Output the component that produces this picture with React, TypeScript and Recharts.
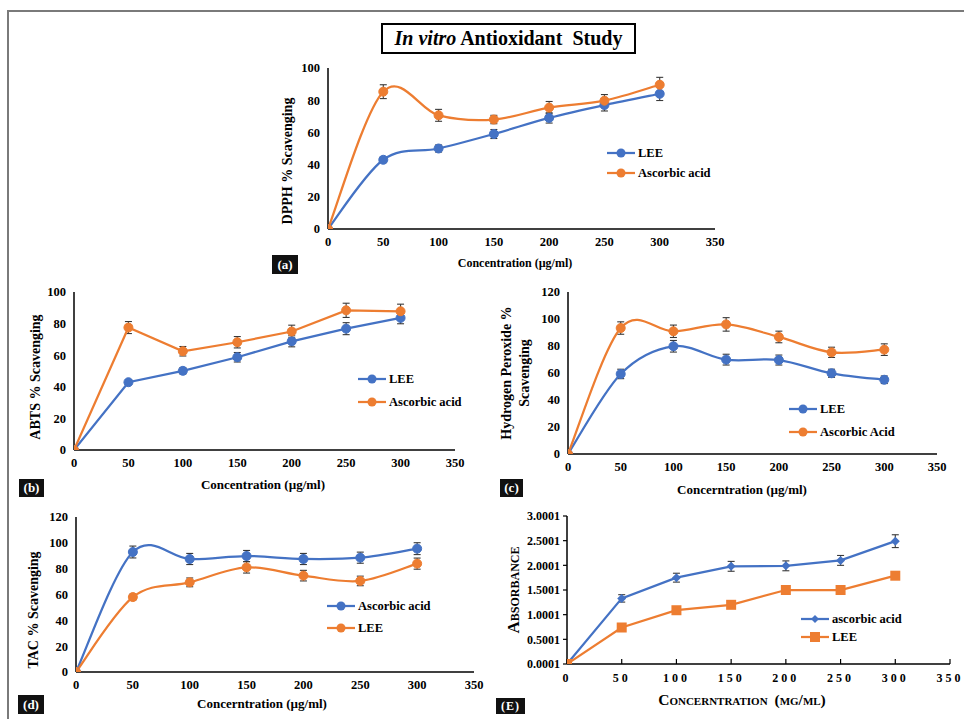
import React from 'react';
import { LineChart, Line, XAxis, YAxis, ErrorBar, Legend } from 'recharts';

// ---------- data ----------
const concentrations = [0, 50, 100, 150, 200, 250, 300];
const xTicks = [0, 50, 100, 150, 200, 250, 300, 350];
const pctTicks100 = [0, 20, 40, 60, 80, 100];
const pctTicks120 = [0, 20, 40, 60, 80, 100, 120];
const absTicks = [0.0001, 0.5001, 1.0001, 1.5001, 2.0001, 2.5001, 3.0001];

// (a) DPPH
const dpphLee = [0, 43, 50, 59, 69, 77, 84];
const dpphLeeErr = [0, 1.8, 2.2, 2.8, 3.2, 3.7, 4.2];
const dpphAsc = [0, 85.3, 70.6, 68, 75.4, 79.7, 89.6];
const dpphAscErr = [0, 4.3, 3.7, 2.6, 3.8, 3.8, 4.6];

// (b) ABTS
const abtsLee = [0, 42.9, 50.1, 58.7, 68.8, 76.8, 83.6];
const abtsLeeErr = [0, 1.5, 2, 3, 3.5, 3.8, 3.7];
const abtsAsc = [0, 77.5, 62.5, 68.2, 75, 88.4, 87.8];
const abtsAscErr = [0, 3.8, 3, 3.6, 4, 4.5, 4.5];

// (c) Hydrogen peroxide
const h2o2Lee = [0, 59.3, 79.8, 69.9, 69.6, 59.8, 55];
const h2o2LeeErr = [0, 3.5, 4.3, 4, 3.7, 3, 2.8];
const h2o2Asc = [0, 93.3, 90.9, 96, 86.7, 75.3, 77.3];
const h2o2AscErr = [0, 4.6, 4.6, 5, 4.3, 3.8, 4.3];

// (d) TAC
const tacAsc = [0, 92.9, 87.5, 89.8, 87.5, 88.5, 95.5];
const tacAscErr = [0, 4.6, 4.3, 4.3, 4.3, 4.3, 4.6];
const tacLee = [0, 58, 69.4, 81, 74.6, 70.5, 83.9];
const tacLeeErr = [0, 2.3, 3.4, 4.4, 4.1, 3.7, 4.3];

// (e) Absorbance
const absAsc = [0.0001, 1.33, 1.75, 1.98, 1.99, 2.1, 2.49];
const absAscErr = [0, 0.075, 0.09, 0.1, 0.1, 0.1, 0.13];
const absLee = [0.0001, 0.74, 1.09, 1.2, 1.5, 1.5, 1.79];

const BLUE = '#4472C4';
const ORANGE = '#ED7D31';
const ERR = '#3a3a3a';
const FONT = '"Liberation Serif", "Times New Roman", serif';

const rows = (a: number[], ae: number[] | null, b: number[], be: number[] | null) =>
  concentrations.map((c, i) => ({
    conc: c,
    s1: a[i],
    s1Err: ae ? ae[i] : 0,
    s2: b[i],
    s2Err: be ? be[i] : 0,
  }));

// Excel-like smoothed curve (Catmull-Rom bezier)
const excelSmooth: any = (context: any) => {
  let pts: number[][] = [];
  return {
    areaStart() {},
    areaEnd() {},
    lineStart() {
      pts = [];
    },
    point(x: number, y: number) {
      pts.push([+x, +y]);
    },
    lineEnd() {
      const n = pts.length;
      if (!n) return;
      context.moveTo(pts[0][0], pts[0][1]);
      for (let i = 0; i < n - 1; i++) {
        const p0 = pts[i - 1] || pts[i];
        const p1 = pts[i];
        const p2 = pts[i + 1];
        const p3 = pts[i + 2] || pts[i + 1];
        context.bezierCurveTo(
          p1[0] + (p2[0] - p0[0]) / 6,
          p1[1] + (p2[1] - p0[1]) / 6,
          p2[0] - (p3[0] - p1[0]) / 6,
          p2[1] - (p3[1] - p1[1]) / 6,
          p2[0],
          p2[1]
        );
      }
    },
  };
};

const tickStyle = { fill: '#000', fontSize: 12.5, fontWeight: 'bold' as const, fontFamily: FONT };
const axisLine = { stroke: '#000', strokeWidth: 1.5 };

const Marker = ({ shape, color }: { shape: string; color: string }) => {
  if (shape === 'square') return <rect x={10} y={5} width={10} height={10} fill={color} />;
  if (shape === 'diamond') return <path d="M15,6 L19,10 L15,14 L11,10 Z" fill={color} />;
  return <circle cx={15} cy={10} r={4.5} fill={color} />;
};

const makeLegend = (rowH: number, shapes: Record<string, string>) => (props: any) => {
  const payload = [...(props.payload || [])].sort((a: any, b: any) =>
    String(a.dataKey).localeCompare(String(b.dataKey))
  );
  return (
    <div style={{ fontFamily: FONT }}>
      {payload.map((p: any) => (
        <div key={p.value} style={{ display: 'flex', alignItems: 'center', height: rowH }}>
          <svg width={30} height={20} style={{ display: 'block' }}>
            <line x1={1} y1={10} x2={29} y2={10} stroke={p.color} strokeWidth={2.25} />
            <Marker shape={shapes[p.dataKey] || 'circle'} color={p.color} />
          </svg>
          <span style={{ fontSize: 12.5, fontWeight: 'bold', color: '#000', marginLeft: 2, whiteSpace: 'nowrap' }}>
            {p.value}
          </span>
        </div>
      ))}
    </div>
  );
};

const DiamondDot = (props: any) => {
  const { cx, cy, fill } = props;
  if (cx == null || cy == null) return null;
  return <path d={`M${cx},${cy - 4.5} L${cx + 4.5},${cy} L${cx},${cy + 4.5} L${cx - 4.5},${cy} Z`} fill={fill} />;
};
const SquareDot = (props: any) => {
  const { cx, cy, fill } = props;
  if (cx == null || cy == null) return null;
  return <rect x={cx - 5} y={cy - 5} width={10} height={10} fill={fill} />;
};

type PanelProps = {
  L: number; R: number; T: number; B: number;
  data: any[];
  yDomain: number[];
  yTicks: number[];
  names: string[];
  colors: string[];
  smooth: boolean;
  legend: { x: number; y: number; rowH: number };
  variantE?: boolean;
};

const YW = 50;
const MT = 10;
const MR = 14;
const XH = 30;

const Panel = (p: PanelProps) => {
  const width = YW + (p.R - p.L) + MR;
  const height = MT + (p.B - p.T) + XH;
  const left = p.L - YW;
  const top = p.T - MT;
  const curve = p.smooth ? excelSmooth : 'linear';
  const shapes: Record<string, string> = p.variantE ? { s1: 'diamond', s2: 'square' } : {};
  return (
    <div style={{ position: 'absolute', left, top }}>
      <LineChart width={width} height={height} data={p.data} margin={{ top: MT, right: MR, bottom: 0, left: 0 }}>
        <XAxis
          type="number"
          dataKey="conc"
          domain={[0, 350]}
          ticks={xTicks}
          interval={0}
          height={XH}
          axisLine={axisLine}
          tickLine={p.variantE ? { stroke: '#000', strokeWidth: 1.2 } : false}
          tickSize={p.variantE ? -5 : 6}
          tickMargin={p.variantE ? 14 : 2}
          tick={p.variantE ? { ...tickStyle, fontSize: 12, letterSpacing: 3 } : tickStyle}
          allowDataOverflow
        />
        <YAxis
          type="number"
          domain={p.yDomain}
          ticks={p.yTicks}
          interval={0}
          width={YW}
          axisLine={axisLine}
          tickLine={p.variantE ? { stroke: '#000', strokeWidth: 1.2 } : false}
          tickSize={p.variantE ? 4 : 6}
          tickMargin={p.variantE ? 3 : 2}
          tick={p.variantE ? { ...tickStyle, fontSize: 12 } : tickStyle}
          tickFormatter={p.variantE ? (v: number) => v.toFixed(4) : undefined}
          allowDataOverflow
        />
        <Legend
          layout="vertical"
          align="center"
          verticalAlign="middle"
          itemSorter="dataKey"
          content={makeLegend(p.legend.rowH, shapes)}
          wrapperStyle={{ left: p.legend.x - left, top: p.legend.y - p.legend.rowH / 2 - top, width: 'auto' }}
        />
        <Line
          dataKey="s1"
          name={p.names[0]}
          type={curve}
          stroke={p.colors[0]}
          strokeWidth={2.25}
          dot={p.variantE ? <DiamondDot fill={p.colors[0]} /> : { r: 4.5, fill: p.colors[0], stroke: p.colors[0], strokeWidth: 1 }}
          activeDot={false}
          isAnimationActive={false}
        >
          <ErrorBar dataKey="s1Err" direction="y" width={3.5} stroke={ERR} strokeWidth={1.1} />
        </Line>
        <Line
          dataKey="s2"
          name={p.names[1]}
          type={curve}
          stroke={p.colors[1]}
          strokeWidth={2.25}
          dot={p.variantE ? <SquareDot fill={p.colors[1]} /> : { r: 4.5, fill: p.colors[1], stroke: p.colors[1], strokeWidth: 1 }}
          activeDot={false}
          isAnimationActive={false}
        >
          {!p.variantE && <ErrorBar dataKey="s2Err" direction="y" width={3.5} stroke={ERR} strokeWidth={1.1} />}
        </Line>
      </LineChart>
    </div>
  );
};

const Txt = ({ x, y, rotate, size = 12.5, children, style }: any) => (
  <div
    style={{
      position: 'absolute',
      left: x,
      top: y,
      transform: `translate(-50%, -50%)${rotate ? ' rotate(-90deg)' : ''}`,
      fontFamily: FONT,
      fontWeight: 'bold',
      fontSize: size,
      color: '#000',
      whiteSpace: 'nowrap',
      textAlign: 'center',
      lineHeight: 1.3,
      ...style,
    }}
  >
    {children}
  </div>
);

const Tag = ({ x, y, w, h, children, style }: any) => (
  <div
    style={{
      position: 'absolute',
      left: x,
      top: y,
      width: w,
      height: h,
      background: '#111',
      color: '#fff',
      fontFamily: FONT,
      fontWeight: 'bold',
      fontSize: 13,
      lineHeight: `${h}px`,
      textAlign: 'center',
      ...style,
    }}
  >
    {children}
  </div>
);

export default function App() {
  return (
    <div style={{ position: 'absolute', left: 0, top: 0, width: 964, height: 719, overflow: 'hidden', background: '#fff' }}>
      {/* frame */}
      <div
        style={{
          position: 'absolute',
          left: 7,
          top: 10,
          width: 957,
          height: 709,
          borderLeft: '2px solid #7a7a7a',
          borderTop: '2px solid #7a7a7a',
          boxSizing: 'border-box',
        }}
      />
      {/* title */}
      <div
        style={{
          position: 'absolute',
          left: 381,
          top: 23,
          width: 255,
          height: 31,
          border: '2px solid #000',
          boxSizing: 'border-box',
          fontFamily: FONT,
          fontWeight: 'bold',
          fontSize: 20,
          lineHeight: '27px',
          textAlign: 'center',
          color: '#000',
          whiteSpace: 'nowrap',
        }}
      >
        <i>In vitro</i> Antioxidant{'\u00a0'} Study
      </div>

      {/* (a) */}
      <Panel
        L={328} R={715} T={68} B={229}
        data={rows(dpphLee, dpphLeeErr, dpphAsc, dpphAscErr)}
        yDomain={[0, 100]} yTicks={pctTicks100}
        names={['LEE', 'Ascorbic acid']} colors={[BLUE, ORANGE]}
        smooth legend={{ x: 606, y: 153, rowH: 20 }}
      />
      <Txt x={288} y={161} rotate size={14}>DPPH % Scavenging</Txt>
      <Txt x={515} y={264} size={12}>Concentration (µg/ml)</Txt>
      <Tag x={272} y={255} w={26} h={19}>(a)</Tag>

      {/* (b) */}
      <Panel
        L={74} R={455} T={292} B={450}
        data={rows(abtsLee, abtsLeeErr, abtsAsc, abtsAscErr)}
        yDomain={[0, 100]} yTicks={pctTicks100}
        names={['LEE', 'Ascorbic acid']} colors={[BLUE, ORANGE]}
        smooth={false} legend={{ x: 357, y: 379, rowH: 23 }}
      />
      <Txt x={36} y={377} rotate size={14}>ABTS % Scavenging</Txt>
      <Txt x={263} y={485} size={13}>Concentration (µg/ml)</Txt>
      <Tag x={19} y={479} w={25} h={18}>(b)</Tag>

      {/* (c) */}
      <Panel
        L={568} R={937} T={292} B={454}
        data={rows(h2o2Lee, h2o2LeeErr, h2o2Asc, h2o2AscErr)}
        yDomain={[0, 120]} yTicks={pctTicks120}
        names={['LEE', 'Ascorbic Acid']} colors={[BLUE, ORANGE]}
        smooth legend={{ x: 788, y: 409, rowH: 23 }}
      />
      <Txt x={516} y={373} rotate size={14}>
        Hydrogen Peroxide %<br />Scavenging
      </Txt>
      <Txt x={742} y={490} size={13}>Concerntration (µg/ml)</Txt>
      <Tag x={500} y={479} w={23} h={18}>(c)</Tag>

      {/* (d) */}
      <Panel
        L={76} R={474} T={517} B={672}
        data={rows(tacAsc, tacAscErr, tacLee, tacLeeErr)}
        yDomain={[0, 120]} yTicks={pctTicks120}
        names={['Ascorbic acid', 'LEE']} colors={[BLUE, ORANGE]}
        smooth legend={{ x: 326, y: 606, rowH: 22 }}
      />
      <Txt x={34} y={610} rotate size={14}>TAC % Scavenging</Txt>
      <Txt x={262} y={704} size={13}>Concerntration (µg/ml)</Txt>
      <Tag x={18} y={695} w={26} h={19}>(d)</Tag>

      {/* (e) */}
      <Panel
        L={567} R={950} T={516} B={664}
        data={rows(absAsc, absAscErr, absLee, null)}
        yDomain={[0.0001, 3.0001]} yTicks={absTicks}
        names={['ascorbic acid', 'LEE']} colors={[BLUE, ORANGE]}
        smooth={false} legend={{ x: 800, y: 619, rowH: 18 }} variantE
      />
      <Txt x={514} y={590} rotate size={17} style={{ fontVariant: 'small-caps' }}>Absorbance</Txt>
      <Txt x={742} y={700} size={15.5} style={{ fontVariant: 'small-caps', wordSpacing: 3 }}>Concerntration (mg/ml)</Txt>
      <Tag x={496} y={698} w={29} h={16} style={{ fontSize: 12, letterSpacing: 1 }}>(E)</Tag>
    </div>
  );
}
